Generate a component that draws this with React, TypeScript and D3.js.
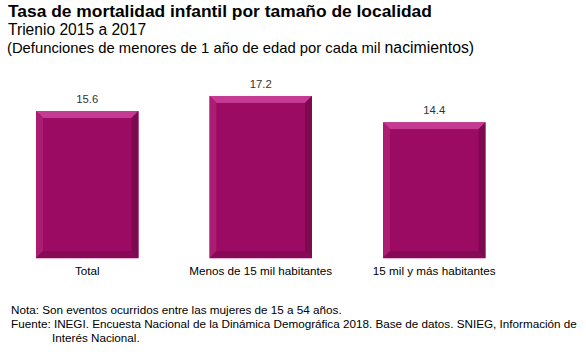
import React from 'react';
import * as d3 from 'd3';

const categories = ['Total', 'Menos de 15 mil habitantes', '15 mil y más habitantes'];
const values = [15.6, 17.2, 14.4];

const titleLines = [
  'Tasa de mortalidad infantil por tamaño de localidad',
  'Trienio 2015 a 2017',
  '(Defunciones de menores de 1 año de edad por cada mil ',
  'nacimientos)',
];
const noteLines = [
  'Nota: Son eventos ocurridos entre las mujeres de 15 a 54 años.',
  'Fuente: INEGI. Encuesta Nacional de la Dinámica Demográfica 2018. Base de datos. SNIEG, Información de',
  'Interés Nacional.',
];

export default function App() {
  const width = 586;
  const height = 363;
  const baseline = 258;
  const bevel = 7;

  const x = d3.scaleBand<string>()
    .domain(categories)
    .range([0.5, 521])
    .paddingInner(0.41)
    .paddingOuter(0.205);

  // 9.42 px per unit, zero at the baseline
  const y = d3.scaleLinear().domain([0, 20]).range([baseline, baseline - 188.4]);

  const font = 'Liberation Sans, Arial, sans-serif';

  return (
    <svg width={width} height={height} style={{ position: 'absolute', left: 0, top: 0 }} fontFamily={font}>
      <rect width={width} height={height} fill="#fff" />
      <text x={8} y={17} fontSize={17.4} fontWeight="bold" fill="#000">{titleLines[0]}</text>
      <text x={8} y={35} fontSize={15.6} fill="#000">{titleLines[1]}</text>
      <text x={7} y={53} fontSize={14.8} fill="#000" style={{ whiteSpace: 'pre' }}>
        {titleLines[2]}
        <tspan fontSize={15.8}>{titleLines[3]}</tspan>
      </text>

      {categories.map((c, i) => {
        const x0 = x(c)!;
        const w = x.bandwidth();
        const y0 = y(values[i]);
        const y1 = y(0);
        const x1 = x0 + w;
        const b = bevel;
        return (
          <g key={c}>
            <rect x={x0} y={y0} width={w} height={y1 - y0} fill="#9c0b63" />
            {/* top bevel */}
            <polygon points={`${x0},${y0} ${x1},${y0} ${x1 - b},${y0 + b} ${x0 + b},${y0 + b}`} fill="#c53a92" />
            {/* left bevel */}
            <polygon points={`${x0},${y0} ${x0 + b},${y0 + b} ${x0 + b},${y1 - b} ${x0},${y1}`} fill="#ad1c73" />
            {/* right bevel */}
            <polygon points={`${x1},${y0} ${x1 - b},${y0 + b} ${x1 - b},${y1 - b} ${x1},${y1}`} fill="#7d0a50" />
            {/* bottom bevel */}
            <polygon points={`${x0},${y1} ${x0 + b},${y1 - b} ${x1 - b},${y1 - b} ${x1},${y1}`} fill="#860a55" />
            <rect x={x0 + b} y={y0 + b} width={w - 2 * b} height={y1 - y0 - 2 * b} fill="#9c0b63" />
            <line x1={x0} x2={x1} y1={y1 + 0.5} y2={y1 + 0.5} stroke="#e8b5d5" strokeWidth={1} />
            <text x={x0 + w / 2} y={y0 - 8} textAnchor="middle" fontSize={11.3} fill="#333">
              {d3.format('.1f')(values[i])}
            </text>
            <text x={x0 + w / 2} y={y1 + 17} textAnchor="middle" fontSize={11.7} fill="#000">{c}</text>
          </g>
        );
      })}

      <text x={11} y={314} fontSize={11.7} fill="#000">{noteLines[0]}</text>
      <text x={11} y={328} fontSize={11.7} fill="#000">{noteLines[1]}</text>
      <text x={52} y={342} fontSize={11.7} fill="#000">{noteLines[2]}</text>
    </svg>
  );
}
